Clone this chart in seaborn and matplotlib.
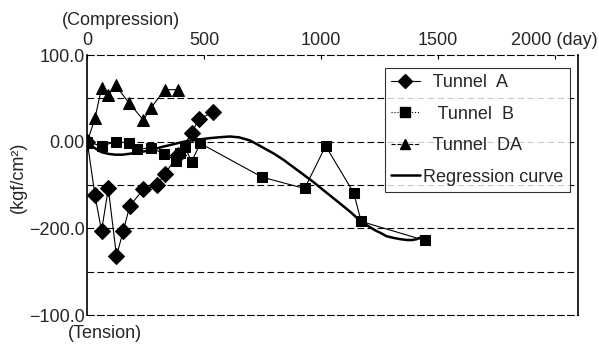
import matplotlib
matplotlib.use("Agg")
import matplotlib.pyplot as plt
import seaborn as sns
from matplotlib.lines import Line2D

# Data (day, stress in kgf/cm^2)
tunnel_a_day = [0, 33, 61, 90, 125, 154, 182, 240, 300, 332, 390, 446, 478, 536]
tunnel_a_val = [0, -62, -103, -54, -132, -103, -74, -55, -50, -37, -15, 10, 26, 34]

tunnel_b_day = [0, 61, 121, 180, 211, 272, 329, 380, 395, 418, 446, 484,
                749, 930, 1020, 1140, 1172, 1445]
tunnel_b_val = [0, -5, 0, -1.5, -9, -7, -14, -22, -13, -6, -23, -2,
                -41, -54, -5, -59, -92, -114]

tunnel_da_day = [0, 33, 61, 90, 121, 178, 240, 272, 332, 389]
tunnel_da_val = [0, 27, 62, 54, 65, 45, 25, 39, 60, 60]

reg_day = [0, 30, 60, 90, 120, 150, 180, 225, 270, 320, 360, 390, 430, 480,
           520, 560, 610, 650, 695, 720, 760, 800, 840, 900, 965, 1020, 1080,
           1130, 1170, 1200, 1230, 1260, 1280, 1310, 1340, 1370, 1390, 1410, 1430]
reg_val = [0, -7, -12, -14, -15, -15, -14, -12, -10, -6, -3.5, -1.5, 1, 2.5,
           4, 5, 6, 5, 1.5, -2, -8, -14, -21, -33, -46, -58, -71,
           -82, -92, -97, -102, -106, -109, -111, -112.5, -113.5, -113.5, -112.5, -110]

x_ticks = [0, 500, 1000, 1500, 2000]
x_tick_labels = ["0", "500", "1000", "1500", "2000 (day)"]
y_ticks = [100, 0, -100, -200]
y_tick_labels = ["100.0", "0.00", "\u2212200.0", "\u2212100.0"]
grid_levels = [50, 0, -50, -100, -150]

sns.set_style("white")
plt.rcParams["font.family"] = ["Liberation Sans", "DejaVu Sans"]

fig = plt.figure(figsize=(5.99, 3.44), dpi=100)
ax = fig.add_axes([0.1457, 0.0843, 0.8193, 0.7557])

for g in grid_levels:
    ax.axhline(g, color="black", lw=0.8, ls=(0, (6, 3)), zorder=0)

sns.lineplot(x=tunnel_a_day, y=tunnel_a_val, ax=ax, color="black", lw=0.8,
             marker="D", markersize=8, markeredgecolor="black",
             estimator=None, sort=False)
sns.lineplot(x=tunnel_b_day, y=tunnel_b_val, ax=ax, color="black", lw=0.8,
             marker="s", markersize=7.5, markeredgecolor="black",
             estimator=None, sort=False)
sns.lineplot(x=tunnel_da_day, y=tunnel_da_val, ax=ax, color="black", lw=0.8,
             marker="^", markersize=8.5, markeredgecolor="black",
             estimator=None, sort=False)
sns.lineplot(x=reg_day, y=reg_val, ax=ax, color="black", lw=1.8,
             estimator=None, sort=False)

ax.set_xlim(0, 2100)
ax.set_ylim(-200, 100)

ax.xaxis.tick_top()
ax.set_xticks(x_ticks)
ax.set_xticklabels(x_tick_labels, fontsize=13)
ax.set_yticks(y_ticks)
ax.set_yticklabels(y_tick_labels, fontsize=13)
ax.tick_params(axis="x", direction="in", length=3, pad=4, color="black")
ax.tick_params(axis="y", direction="in", length=0, pad=2)

for side in ["left", "right"]:
    ax.spines[side].set_color("black")
    ax.spines[side].set_linewidth(1.2)
for side in ["top", "bottom"]:
    ax.spines[side].set_color("black")
    ax.spines[side].set_linewidth(0.8)
    ax.spines[side].set_linestyle((0, (6, 3)))

handles = [
    Line2D([], [], color="black", lw=0.8, marker="D", markersize=7),
    Line2D([], [], color="black", lw=0.8, ls=":", marker="s", markersize=7),
    Line2D([], [], color="black", lw=0.8, ls="--", marker="^", markersize=7),
    Line2D([], [], color="black", lw=1.8),
]
labels = ["  Tunnel  A", "   Tunnel  B", "  Tunnel  DA", "Regression curve"]
leg = ax.legend(handles, labels, loc="upper right",
                bbox_to_anchor=(0.9835, 0.95), fontsize=13,
                frameon=True, fancybox=False, edgecolor="black",
                handlelength=1.6, handletextpad=0.2, labelspacing=0.8,
                borderpad=0.35, borderaxespad=0)
leg.get_frame().set_linewidth(0.8)

fig.text(0.202, 0.94, "(Compression)", fontsize=13, ha="center", va="center")
fig.text(0.175, 0.03, "(Tension)", fontsize=13, ha="center", va="center")
fig.text(0.03, 0.485, "(kgf/cm\u00b2)", fontsize=13, ha="center", va="center",
         rotation=90)

fig.savefig("out.png", dpi=100)
